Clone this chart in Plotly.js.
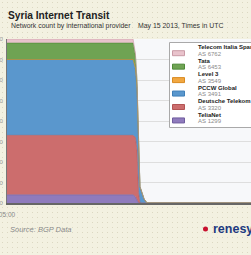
<!DOCTYPE html>
<html>
<head>
<meta charset="utf-8">
<script src="https://cdn.plot.ly/plotly-3.0.1.min.js"></script>
<style>
  html, body { margin:0; padding:0; overflow:hidden; }
  body {
    width:251px; height:255px;
    background-color:#f3f1e1;
    background-image: radial-gradient(#dcd8c2 0.7px, transparent 0.9px);
    background-size: 5px 5px;
  }
  #chart { width:251px; height:255px; }
</style>
</head>
<body>
<div id="chart"></div>
<script>
// ---- data ----
var times = ["2013-05-15 05:00","2013-05-15 18:26","2013-05-15 18:41","2013-05-15 18:51","2013-05-15 19:01","2013-05-15 19:10","2013-05-15 19:36","2013-05-15 19:55","2013-05-16 07:00"];
var teliaNet        = [4, 4, 3, 1, 0, 0, 0, 0, 0];
var deutscheTelekom = [29, 29, 29, 25, 5, 0, 0, 0, 0];
var pccwGlobal      = [37, 37, 33, 30, 25, 8, 2, 0, 0];
var level3          = [0, 0, 1, 1, 1, 0, 0, 0, 0];
var tata            = [8, 8, 6, 3, 1, 0, 0, 0, 0];
var telecomItalia   = [2, 2, 1, 0, 0, 0, 0, 0, 0];

// legend (top to bottom)
var legendNames = ["Telecom Italia Sparkle", "Tata", "Level 3", "PCCW Global", "Deutsche Telekom", "TeliaNet"];
var legendAS    = ["AS 6762", "AS 6453", "AS 3549", "AS 3491", "AS 3320", "AS 1299"];

var yTickVals = [0, 10, 20, 30, 40, 50, 60, 70, 80];
var yTickText = ["0", "10", "20", "30", "40", "50", "60", "70", "80"];
var xTickVals = ["2013-05-15 05:00"];
var xTickText = ["05:00"];

// ---- styles ----
var fillColors = {
  "Telecom Italia Sparkle": "#e9c3cc",
  "Tata": "#6fa353",
  "Level 3": "#f1a741",
  "PCCW Global": "#5a97cd",
  "Deutsche Telekom": "#cc6d6d",
  "TeliaNet": "#8f7bbd"
};
var lineColors = {
  "Telecom Italia Sparkle": "#c99aa6",
  "Tata": "#4f8a38",
  "Level 3": "#d98a20",
  "PCCW Global": "#3f7fb8",
  "Deutsche Telekom": "#b35454",
  "TeliaNet": "#6f5c9e"
};

var seriesOrder = [
  ["TeliaNet", teliaNet],
  ["Deutsche Telekom", deutscheTelekom],
  ["PCCW Global", pccwGlobal],
  ["Level 3", level3],
  ["Tata", tata],
  ["Telecom Italia Sparkle", telecomItalia]
];

var traces = seriesOrder.map(function (s) {
  return {
    x: times, y: s[1], name: s[0],
    type: "scatter", mode: "lines", stackgroup: "one",
    line: { width: 0.6, color: lineColors[s[0]] },
    fillcolor: fillColors[s[0]],
    hoverinfo: "skip", showlegend: false
  };
});

// pixel helpers for layout decorations (plot area: x 7..251, y 39..203)
var W = 251, H = 255, mL = 7, mR = 0, mT = 39, mB = 52;
var pw = W - mL - mR, ph = H - mT - mB;
function px(x) { return (x - mL) / pw; }
function py(y) { return (H - mB - y) / ph; }

var shapes = [];
var annotations = [];

// legend box
shapes.push({ type: "rect", xref: "paper", yref: "paper",
  x0: px(169.5), x1: px(290), y0: py(42.5), y1: py(127.5),
  fillcolor: "#ffffff", line: { color: "#a9a9a9", width: 1 }, layer: "above" });

legendNames.forEach(function (name, i) {
  var yName = 47.3 + i * 13.45;
  var yAS = yName + 6.4;
  shapes.push({ type: "rect", xref: "paper", yref: "paper",
    x0: px(172.5), x1: px(184.5), y0: py(yAS - 3), y1: py(yAS + 2),
    fillcolor: fillColors[name], line: { color: lineColors[name], width: 1 }, layer: "above" });
  annotations.push({ xref: "paper", yref: "paper", x: px(196), y: py(yName),
    xanchor: "left", yanchor: "middle", showarrow: false,
    text: "<b>" + name + "</b>", font: { family: "Liberation Sans, Arial, sans-serif", size: 6, color: "#222" } });
  annotations.push({ xref: "paper", yref: "paper", x: px(196), y: py(yAS),
    xanchor: "left", yanchor: "middle", showarrow: false,
    text: legendAS[i], font: { family: "Liberation Sans, Arial, sans-serif", size: 6, color: "#8a8a8a" } });
});

// subtitle
annotations.push({ xref: "paper", yref: "paper", x: px(9), y: py(26),
  xanchor: "left", yanchor: "middle", showarrow: false,
  text: "Network count by international provider", font: { family: "Liberation Sans, Arial, sans-serif", size: 6.9, color: "#333" } });
annotations.push({ xref: "paper", yref: "paper", x: px(136), y: py(26),
  xanchor: "left", yanchor: "middle", showarrow: false,
  text: "May 15 2013, Times in UTC", font: { family: "Liberation Sans, Arial, sans-serif", size: 6.9, color: "#333" } });
// source
annotations.push({ xref: "paper", yref: "paper", x: px(7.5), y: py(229),
  xanchor: "left", yanchor: "middle", showarrow: false,
  text: "<i>Source: BGP Data</i>", font: { family: "Liberation Sans, Arial, sans-serif", size: 7.5, color: "#8a8a8a" } });
// logo
shapes.push({ type: "circle", xref: "paper", yref: "paper",
  x0: px(203), x1: px(208), y0: py(226.5), y1: py(231.5),
  fillcolor: "#c8102e", line: { width: 0 } });
annotations.push({ xref: "paper", yref: "paper", x: px(211), y: py(228.5),
  xanchor: "left", yanchor: "middle", showarrow: false,
  text: "<b>renesys</b>", font: { family: "Liberation Sans, Arial, sans-serif", size: 12.5, color: "#1d3a80" } });

var layout = {
  width: W, height: H,
  margin: { l: mL, r: mR, t: mT, b: mB, pad: 0 },
  paper_bgcolor: "rgba(0,0,0,0)",
  plot_bgcolor: "#f7f8fa",
  title: { text: "<b>Syria Internet Transit</b>", x: 8 / W, xanchor: "left", xref: "container",
           y: 1 - 15 / H, yanchor: "middle", yref: "container",
           font: { family: "Liberation Sans, Arial, sans-serif", size: 10.2, color: "#222" } },
  xaxis: {
    type: "date", range: ["2013-05-15 05:00", "2013-05-16 07:00"],
    tickvals: xTickVals, ticktext: xTickText,
    showgrid: false, zeroline: false,
    showline: true, linecolor: "#666", linewidth: 1.5,
    ticks: "", ticklabelstandoff: 5, ticklabeloverflow: "allow",
    tickfont: { family: "Liberation Sans, Arial, sans-serif", size: 6.5, color: "#888" }
  },
  yaxis: {
    range: [0, 80], tickvals: yTickVals, ticktext: yTickText,
    showgrid: true, gridcolor: "#dedede", gridwidth: 1,
    zeroline: false, showline: true, linecolor: "#777", linewidth: 1,
    ticks: "", ticklabelstandoff: 2, ticklabeloverflow: "allow",
    tickfont: { family: "Liberation Sans, Arial, sans-serif", size: 6, color: "#999" }
  },
  shapes: shapes,
  annotations: annotations,
  showlegend: false
};

Plotly.newPlot("chart", traces, layout, { displayModeBar: false, staticPlot: true });
</script>
</body>
</html>
